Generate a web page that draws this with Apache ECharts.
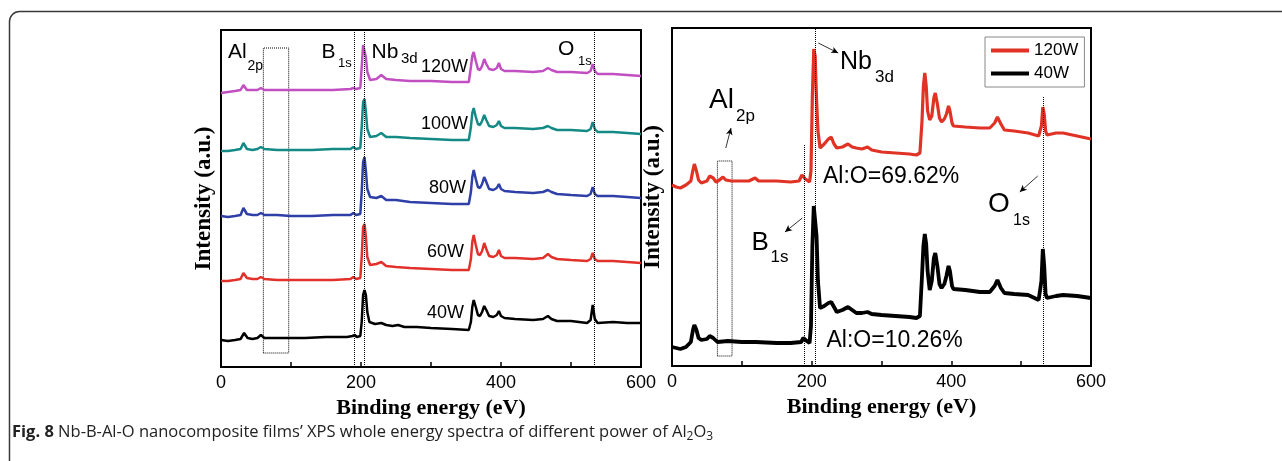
<!DOCTYPE html>
<html>
<head>
<meta charset="utf-8">
<script src="https://cdn.jsdelivr.net/npm/echarts@6/dist/echarts.min.js"></script>
<style>
  html, body { margin: 0; padding: 0; background: #fff; }
  #xpsChart { width: 1282px; height: 461px; }
</style>
</head>
<body>
<div id="xpsChart"></div>
<script>
// tick labels of the energy axis (eV)
var energyTicks = [0, 200, 400, 600];

// left panel : spectra stacked by power, [energy eV, intensity a.u. (offset)]
var leftNames = ['120W', '100W', '80W', '60W', '40W'];
var leftColors = ['#c24fc2', '#138a85', '#2e3fa8', '#e2312a', '#000000'];

var left120W = [[0,274],[10,275],[20,276],[28,277],[32,282],[37,277],[45,277],[52,277],[57,279],[62,277],[80,277],[100,277],[130,277],[160,277],[185,278],[189,279],[193,278],[199,279],[201,300],[203,322],[205,324],[207,310],[209,295],[213,287],[222,288],[229,292],[236,288],[250,287],[270,286],[300,286],[330,285],[354,285],[357,300],[359,311],[361,315],[364,306],[367,298],[370,297],[373,301],[376,308],[379,303],[383,298],[389,297],[394,299],[397,304],[400,298],[405,296],[420,296],[446,295],[460,296],[467,299],[472,297],[480,295],[500,295],[523,294],[528,296],[531,303],[534,296],[538,293],[560,293],[580,292],[600,291]];
var left100W = [[0,216],[10,216],[20,217],[28,218],[32,224],[37,218],[45,217],[52,218],[57,220],[62,218],[80,217],[100,217],[130,217],[160,218],[185,218],[189,220],[193,218],[199,219],[201,240],[203,265],[205,268],[207,255],[209,238],[213,230],[222,231],[229,234],[236,230],[250,230],[270,229],[300,228],[330,227],[354,227],[357,240],[359,254],[361,259],[364,250],[367,243],[370,242],[373,246],[376,252],[379,247],[383,241],[389,240],[394,242],[397,246],[400,241],[405,239],[420,239],[446,238],[460,239],[467,241],[472,239],[480,237],[500,237],[523,236],[528,238],[531,245],[534,238],[538,235],[560,235],[580,234],[600,233]];
var left80W = [[0,151],[10,150],[20,151],[28,152],[32,159],[37,153],[45,152],[52,152],[57,154],[62,152],[80,152],[100,151],[130,151],[160,152],[185,152],[189,154],[193,152],[199,153],[201,175],[203,205],[205,210],[207,196],[209,178],[213,170],[222,169],[229,171],[236,167],[250,167],[270,165],[300,164],[330,163],[354,163],[357,175],[359,190],[361,197],[364,188],[367,180],[370,179],[373,183],[376,190],[379,185],[383,178],[389,177],[394,179],[397,183],[400,178],[405,176],[420,175],[446,174],[460,175],[467,177],[472,175],[480,173],[500,172],[523,171],[528,173],[531,180],[534,173],[538,171],[560,171],[580,170],[600,169]];
var left60W = [[0,86],[10,86],[20,87],[28,88],[32,94],[37,89],[45,88],[52,88],[57,90],[62,88],[80,87],[100,87],[130,87],[160,87],[185,88],[189,90],[193,88],[199,89],[201,110],[203,140],[205,143],[207,130],[209,110],[213,102],[222,103],[229,105],[236,101],[250,100],[270,99],[300,98],[330,97],[354,97],[357,108],[359,125],[361,132],[364,122],[367,113],[370,112],[373,116],[376,124],[379,118],[383,111],[389,110],[394,112],[397,117],[400,111],[405,109],[420,109],[446,108],[460,109],[467,113],[472,110],[480,108],[500,107],[523,106],[528,108],[531,114],[534,108],[538,106],[560,106],[580,105],[600,104]];
var left40W = [[0,27],[10,26],[20,27],[28,28],[33,34],[38,29],[45,28],[52,29],[57,32],[62,29],[80,29],[100,29],[120,29],[150,30],[180,30],[188,31],[191,32],[194,30],[199,31],[201,45],[203,72],[205,77],[207,72],[209,55],[212,45],[220,43],[229,44],[236,42],[245,41],[253,42],[262,40],[280,40],[300,39],[330,38],[354,37],[357,45],[359,60],[361,67],[364,60],[367,52],[370,51],[373,55],[376,61],[379,57],[383,51],[389,50],[394,52],[397,56],[400,51],[405,49],[420,48],[446,47],[460,48],[467,51],[472,48],[480,46],[500,46],[523,44],[528,47],[531,62],[534,48],[538,44],[560,45],[580,44],[600,44]];

// right panel : 120W against 40W
var right120W = [[0,181],[6,179],[12,178],[20,181],[27,185],[30,196],[32,202],[35,195],[38,186],[42,183],[50,185],[54,190],[56,192],[59,188],[63,184],[68,186],[73,189],[77,186],[85,185],[100,185],[110,185],[119,188],[124,185],[150,185],[170,184],[182,185],[186,191],[188,193],[191,187],[197,184],[199,195],[201,270],[203,317],[205,310],[207,266],[209,235],[212,218],[218,222],[224,227],[228,229],[232,222],[236,218],[244,219],[252,222],[258,219],[264,218],[272,217],[280,219],[286,216],[300,214],[320,213],[340,212],[350,211],[355,213],[358,245],[360,280],[362,293],[364,280],[366,255],[369,246],[372,250],[375,268],[377,273],[380,262],[383,248],[386,244],[390,247],[393,252],[396,260],[398,255],[401,243],[403,240],[420,239],[441,238],[455,238],[462,243],[466,249],[468,248],[471,242],[476,236],[490,235],[510,233],[525,230],[529,240],[531,259],[533,252],[535,235],[537,231],[550,233],[560,233],[580,230],[600,227]];
var right40W = [[0,19],[6,18],[12,17],[20,19],[27,24],[30,36],[32,41],[35,36],[38,28],[42,26],[50,27],[54,30],[56,31],[59,28],[65,24],[80,25],[100,24],[120,24],[150,23],[170,23],[185,24],[188,28],[190,29],[193,25],[197,23],[199,40],[201,120],[203,160],[205,162],[207,130],[209,85],[212,58],[218,60],[224,63],[228,64],[232,59],[236,54],[244,56],[252,59],[258,56],[264,53],[272,53],[280,54],[286,52],[300,51],[320,50],[340,49],[350,48],[355,50],[358,90],[360,120],[362,132],[364,122],[366,95],[369,76],[372,85],[375,108],[377,113],[380,100],[383,82],[386,78],[390,82],[393,90],[396,100],[398,95],[401,80],[403,77],[420,76],[441,74],[455,74],[462,80],[466,86],[468,85],[471,78],[476,73],[490,72],[510,71],[525,66],[529,85],[531,117],[533,100],[535,72],[537,68],[550,70],[560,71],[580,70],[600,68]];

// reference lines (eV) and boxes
var leftRefLines = [190.5, 204.3, 533];
var leftAlBox = [[60.5, 14], [96.7, 319]];
var rightAlBox = [[65, 10], [86, 205]];

var myChart = echarts.init(document.getElementById('xpsChart'));

var SANS = 'Liberation Sans';
var SERIF = 'Liberation Serif';

// a plain text label on the canvas
var txt = function(x, y, s, size, align){
  return {
    type: 'text', x: x, y: y, z: 50,
    style: { text: s, fontFamily: SANS, fontSize: size, fill: '#000',
             align: align || 'left', verticalAlign: 'middle' }
  };
};

var xAxisOf = function(gridIndex){
  return {
    type: 'value', gridIndex: gridIndex, min: 0, max: 600, interval: 100,
    name: 'Binding energy (eV)', nameLocation: 'middle', nameGap: 22,
    nameTextStyle: { fontFamily: SERIF, fontWeight: 'bold', fontSize: 22, color: '#000' },
    axisLine: { show: true, lineStyle: { color: '#000', width: 2 } },
    axisTick: { show: true, inside: true, length: 5, lineStyle: { color: '#000', width: 1.5 } },
    axisLabel: {
      margin: 7, fontFamily: SANS, fontSize: 18, color: '#000',
      formatter: function(v){ return energyTicks.indexOf(v) >= 0 ? String(v) : ''; }
    },
    splitLine: { show: false }
  };
};

var yAxisOf = function(gridIndex, maxV, gap){
  return {
    type: 'value', gridIndex: gridIndex, min: 0, max: maxV,
    name: 'Intensity (a.u.)', nameLocation: 'middle', nameGap: gap, nameRotate: 90,
    nameTextStyle: { fontFamily: SERIF, fontWeight: 'bold', fontSize: 23, color: '#000' },
    axisLine: { show: true, lineStyle: { color: '#000', width: 2 } },
    axisTick: { show: false },
    axisLabel: { show: false },
    splitLine: { show: false }
  };
};

var dotted = { color: '#000', width: 1, type: 'dotted' };

var series = [];
var leftData = [left120W, left100W, left80W, left60W, left40W];
for (var i = 0; i < leftData.length; i++) {
  series.push({
    name: 'p' + leftNames[i], type: 'line', xAxisIndex: 0, yAxisIndex: 0,
    data: leftData[i], showSymbol: false, smooth: false, silent: true,
    lineStyle: { color: leftColors[i], width: 2.5 }
  });
}
// dotted guides of the left panel
series[4].markLine = {
  silent: true, symbol: 'none', label: { show: false }, lineStyle: dotted,
  data: leftRefLines.map(function(v){ return { xAxis: v }; })
};
series[4].markArea = {
  silent: true,
  itemStyle: { color: 'rgba(0,0,0,0)', borderColor: '#000', borderWidth: 1, borderType: 'dotted' },
  data: [[{ coord: leftAlBox[0] }, { coord: leftAlBox[1] }]]
};

series.push({
  name: '120W', type: 'line', xAxisIndex: 1, yAxisIndex: 1,
  data: right120W, showSymbol: false, silent: true,
  lineStyle: { color: '#e03325', width: 3.2 }, itemStyle: { color: '#e03325' },
  markLine: {
    silent: true, symbol: 'none', label: { show: false }, lineStyle: dotted,
    data: [
      [{ coord: [205, 0] }, { coord: [205, 338] }],
      [{ coord: [189, 0] }, { coord: [189, 221] }],
      [{ coord: [532, 0] }, { coord: [532, 269] }]
    ]
  },
  markArea: {
    silent: true,
    itemStyle: { color: 'rgba(0,0,0,0)', borderColor: '#000', borderWidth: 1, borderType: 'dotted' },
    data: [[{ coord: rightAlBox[0] }, { coord: rightAlBox[1] }]]
  }
});
series.push({
  name: '40W', type: 'line', xAxisIndex: 1, yAxisIndex: 1,
  data: right40W, showSymbol: false, silent: true,
  lineStyle: { color: '#000', width: 3.8 }, itemStyle: { color: '#000' },
  // small arrows pointing at the peak labels
  markLine: {
    silent: true, symbol: ['none', 'arrow'], symbolSize: [5, 7], label: { show: false },
    lineStyle: { color: '#000', width: 0.8, type: 'solid' },
    data: [
      [{ coord: [209.5, 323] }, { coord: [238, 313] }],
      [{ coord: [77, 218] }, { coord: [84.5, 238] }],
      [{ coord: [523.7, 190] }, { coord: [498, 174] }],
      [{ coord: [186.6, 148] }, { coord: [161.8, 134] }]
    ]
  }
});

var graphics = [
  // rounded frame round the figure
  { type: 'rect', z: -10, shape: { x: 9.5, y: 11.5, width: 1400, height: 600, r: 10 },
    style: { fill: 'none', stroke: '#3a3a3a', lineWidth: 1.5 } },

  // left panel labels
  txt(228, 52.5, 'Al', 21), txt(247.5, 66, '2p', 14),
  txt(321.5, 52, 'B', 21), txt(338, 63, '1s', 13),
  txt(371.5, 52, 'Nb', 21), txt(401, 59, '3d', 15),
  txt(558, 49.5, 'O', 21), txt(578, 61, '1s', 13),
  txt(468, 67.5, '120W', 18, 'right'),
  txt(468, 123.7, '100W', 18, 'right'),
  txt(466, 188.3, '80W', 18, 'right'),
  txt(464, 251.7, '60W', 18, 'right'),
  txt(464, 312.7, '40W', 18, 'right'),

  // right panel labels
  txt(840, 62.5, 'Nb', 25), txt(875, 77, '3d', 17),
  txt(709, 100, 'Al', 28), txt(736, 116, '2p', 17),
  txt(823, 176.7, 'Al:O=69.62%', 23),
  txt(988, 204, 'O', 28), txt(1013, 221, '1s', 16),
  txt(751.5, 242.5, 'B', 26), txt(770.5, 257, '1s', 17),
  txt(826.5, 341, 'Al:O=10.26%', 23),

  // caption
  { type: 'text', x: 12, y: 432.5, z: 50,
    style: {
      text: '{b|Fig. 8} Nb-B-Al-O nanocomposite films\u2019 XPS whole energy spectra of different power of Al{s|2}O{s|3}',
      fontFamily: 'Open Sans', fontSize: 16.5, fill: '#222', verticalAlign: 'middle', lineHeight: 20,
      rich: {
        b: { fontFamily: 'Open Sans', fontWeight: 'bold', fontSize: 16.5, fill: '#222', lineHeight: 20 },
        s: { fontFamily: 'Open Sans', fontSize: 12, fill: '#222', lineHeight: 12, verticalAlign: 'bottom' }
      }
    } }
];

var option = {
  backgroundColor: '#ffffff',
  animation: false,
  grid: [
    { left: 221, top: 30, width: 420, height: 337, show: true, borderColor: '#000', borderWidth: 2,
      backgroundColor: 'rgba(0,0,0,0)', containLabel: false, outerBoundsMode: 'none' },
    { left: 672, top: 28, width: 419, height: 338, show: true, borderColor: '#000', borderWidth: 2,
      backgroundColor: 'rgba(0,0,0,0)', containLabel: false, outerBoundsMode: 'none' }
  ],
  xAxis: [xAxisOf(0), xAxisOf(1)],
  yAxis: [yAxisOf(0, 337, 5), yAxisOf(1, 338, 7)],
  legend: {
    data: ['120W', '40W'], orient: 'vertical', left: 985, top: 37,
    icon: 'rect', itemWidth: 38, itemHeight: 4, itemGap: 6,
    padding: [5, 6, 5, 6], borderColor: '#888', borderWidth: 1, borderRadius: 0,
    backgroundColor: '#fff', selectedMode: false,
    textStyle: { fontFamily: SANS, fontSize: 17, color: '#000' }
  },
  series: series,
  graphic: graphics
};

myChart.setOption(option);
</script>
</body>
</html>
